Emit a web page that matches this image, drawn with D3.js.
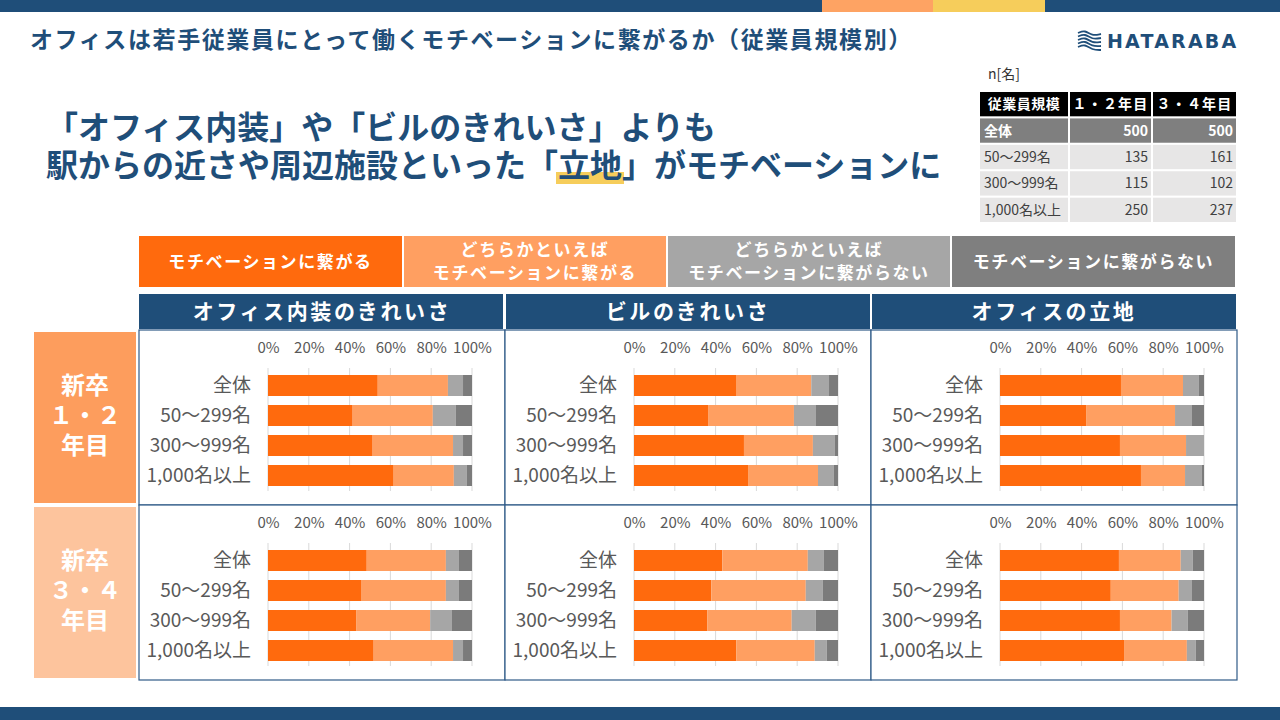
<!DOCTYPE html>
<html lang="ja">
<head>
<meta charset="utf-8">
<script src="https://cdn.jsdelivr.net/npm/d3@7"></script>
<style>
  html, body { margin: 0; padding: 0; background: #fff; }
  svg { display: block; font-family: "Noto Sans CJK JP", "Noto Sans", sans-serif; }
</style>
</head>
<body>
<svg id="chart" width="1280" height="720"></svg>
<script>
// ---- data ----
var sizeCats = ["全体", "50～299名", "300～999名", "1,000名以上"];
var responses = ["モチベーションに繋がる", "どちらかといえば|モチベーションに繋がる",
                 "どちらかといえば|モチベーションに繋がらない", "モチベーションに繋がらない"];
var items = ["オフィス内装のきれいさ", "ビルのきれいさ", "オフィスの立地"];
var cohorts = ["新卒|１・２|年目", "新卒|３・４|年目"];
var ticks = [0, 20, 40, 60, 80, 100];

// share (%) per size category: [繋がる, どちらかといえば繋がる, どちらかといえば繋がらない, 繋がらない]
var y12Interior = [[53.8, 34.4, 7.4, 4.4], [41.5, 39.3, 11.3, 7.9], [51.3, 39.4, 4.9, 4.4], [61.6, 29.5, 6.4, 2.5]];
var y12Building = [[50.0, 36.9, 8.7, 4.4], [36.3, 42.1, 10.8, 10.8], [53.9, 33.8, 10.8, 1.5], [55.9, 34.3, 7.8, 2.0]];
var y12Location = [[59.3, 30.4, 7.8, 2.5], [42.2, 43.6, 8.3, 5.9], [58.8, 32.4, 8.8, 0.0], [69.1, 21.6, 8.3, 1.0]];
var y34Interior = [[48.4, 38.8, 6.4, 6.4], [45.9, 41.3, 6.4, 6.4], [43.4, 36.1, 10.7, 9.8], [51.8, 38.9, 4.9, 4.4]];
var y34Building = [[43.3, 41.9, 7.9, 6.9], [37.9, 46.3, 8.4, 7.4], [36.0, 41.3, 11.8, 10.9], [50.2, 38.4, 5.9, 5.5]];
var y34Location = [[58.3, 30.3, 5.9, 5.5], [54.3, 33.3, 6.5, 5.9], [58.8, 25.3, 7.9, 8.0], [60.8, 30.8, 4.4, 4.0]];

// sample sizes
var tableHead = ["従業員規模", "１・２年目", "３・４年目"];
var n12 = [500, 135, 115, 250];
var n34 = [500, 161, 102, 237];

var title = "オフィスは若手従業員にとって働くモチベーションに繋がるか（従業員規模別）";
var headline1 = "「オフィス内装」や「ビルのきれいさ」よりも";
var headline2 = "駅からの近さや周辺施設といった「立地」がモチベーションに";

// ---- styles ----
var navy = "#1f4e79";
var barColors = ["#ff6a0d", "#ff9f61", "#a6a6a6", "#7b7b7b"];
var cohortColors = ["#fd9d5d", "#fdc49d"];
var textGray = "#595959";

var svg = d3.select("#chart");

// top & bottom bands
svg.append("rect").attr("x", 0).attr("y", 0).attr("width", 1280).attr("height", 12).attr("fill", navy);
svg.append("rect").attr("x", 822).attr("y", 0).attr("width", 111).attr("height", 12).attr("fill", "#fea363");
svg.append("rect").attr("x", 933).attr("y", 0).attr("width", 112).attr("height", 12).attr("fill", "#f6cd5b");
svg.append("rect").attr("x", 0).attr("y", 707).attr("width", 1280).attr("height", 13).attr("fill", navy);

// title
svg.append("text")
    .attr("x", 30).attr("y", 48)
    .attr("fill", navy)
    .style("font-size", "23px").style("font-weight", "bold").style("letter-spacing", "1.6px")
    .text(title);

// logo
var logo = svg.append("g").attr("transform", "translate(1078,30)");
var wave = d3.line().curve(d3.curveBasis);
for (let i = 0; i < 5; i++) {
    logo.append("path")
        .attr("d", wave([[0, 3 + i * 3.5], [7, 0 + i * 3.5], [14, 6 + i * 3.5], [23, 4 + i * 4]]))
        .attr("fill", "none").attr("stroke", navy).attr("stroke-width", 1.8);
}
logo.append("text")
    .attr("x", 29).attr("y", 18)
    .attr("fill", navy)
    .style("font-family", "'DejaVu Sans', sans-serif")
    .style("font-size", "19px").style("font-weight", "bold").style("letter-spacing", "2.2px")
    .text("HATARABA");

// headline
var hl = svg.append("g");
var hlHighlight = hl.append("rect").attr("fill", "#f6cd5b");
hl.append("text")
    .attr("x", 46).attr("y", 139)
    .attr("fill", navy)
    .style("font-size", "32px").style("font-weight", "bold")
    .text(headline1);
var hl2 = hl.append("text")
    .attr("x", 46).attr("y", 177)
    .attr("fill", navy)
    .style("font-size", "32px").style("font-weight", "bold")
    .text(headline2);
var hiIdx = headline2.indexOf("立地");
var hiStart = hl2.node().getStartPositionOfChar(hiIdx).x;
var hiLen = hl2.node().getSubStringLength(hiIdx, 2);
hlHighlight.attr("x", hiStart - 2).attr("y", 172).attr("width", hiLen + 4).attr("height", 12);

// sample size table
svg.append("text")
    .attr("x", 988).attr("y", 79)
    .attr("fill", "#333")
    .style("font-size", "14px")
    .text("n[名]");
var tCols = [[980, 1068], [1070, 1151], [1153, 1236]];
var tRowY = d3.scaleBand().domain(d3.range(sizeCats.length + 1)).range([92, 222]).paddingInner(0.08);
var table = svg.append("g");
tableHead.forEach(function (h, c) {
    table.append("rect")
        .attr("x", tCols[c][0]).attr("y", tRowY(0))
        .attr("width", tCols[c][1] - tCols[c][0]).attr("height", tRowY.bandwidth())
        .attr("fill", "#000");
    table.append("text")
        .attr("x", (tCols[c][0] + tCols[c][1]) / 2).attr("y", tRowY(0) + tRowY.bandwidth() / 2 + 5)
        .attr("text-anchor", "middle").attr("fill", "#fff")
        .style("font-size", "14px").style("font-weight", "bold").style("letter-spacing", c ? "1.2px" : "0.5px")
        .text(h);
});
sizeCats.forEach(function (s, r) {
    var row = r + 1;
    var first = r === 0;
    var cells = [s, n12[r], n34[r]];
    cells.forEach(function (v, c) {
        table.append("rect")
            .attr("x", tCols[c][0]).attr("y", tRowY(row))
            .attr("width", tCols[c][1] - tCols[c][0]).attr("height", tRowY.bandwidth())
            .attr("fill", first ? "#7f7f7f" : "#e7e6e6");
        table.append("text")
            .attr("x", c === 0 ? tCols[c][0] + 4 : tCols[c][1] - 3)
            .attr("y", tRowY(row) + tRowY.bandwidth() / 2 + 5)
            .attr("text-anchor", c === 0 ? "start" : "end")
            .attr("fill", first ? "#fff" : "#404040")
            .style("font-size", "14px").style("font-weight", first ? "bold" : "normal")
            .text(v);
    });
});

// legend
var legendX = [139, 404, 668, 952, 1237];
var legend = svg.append("g");
responses.forEach(function (r, i) {
    var x0 = legendX[i], x1 = legendX[i + 1] - 2;
    legend.append("rect")
        .attr("x", x0).attr("y", 236).attr("width", x1 - x0).attr("height", 51)
        .attr("fill", barColors[i] === "#7b7b7b" ? "#7f7f7f" : barColors[i]);
    var lines = r.split("|");
    lines.forEach(function (line, k) {
        legend.append("text")
            .attr("x", (x0 + x1) / 2)
            .attr("y", 261.5 + (k - (lines.length - 1) / 2) * 23 + 6)
            .attr("text-anchor", "middle").attr("fill", "#fff")
            .style("font-size", "17px").style("font-weight", "bold").style("letter-spacing", "1.6px")
            .text(line);
    });
});

// panels
var colX = d3.scaleBand().domain(items).range([139, 1237]);
var rowTop = [330, 505];
var panelH = 175;
var chartLeft = 129;
var chartW = 204;

var x = d3.scaleLinear().domain([0, 100]).range([0, chartW]);
var y = d3.scaleBand().domain(sizeCats).range([40.5, 160.5]).paddingInner(0.3).paddingOuter(0.15);

var panelData = [
    [y12Interior, y12Building, y12Location],
    [y34Interior, y34Building, y34Location]
];

// column headers
items.forEach(function (it) {
    var x0 = colX(it);
    svg.append("rect")
        .attr("x", x0 + (it === items[0] ? 0 : 1)).attr("y", 294)
        .attr("width", colX.bandwidth() - 2).attr("height", 35)
        .attr("fill", navy);
    svg.append("text")
        .attr("x", x0 + colX.bandwidth() / 2).attr("y", 319)
        .attr("text-anchor", "middle").attr("fill", "#fff")
        .style("font-size", "21px").style("font-weight", "bold").style("letter-spacing", "2.6px")
        .text(it);
});

// cohort labels
cohorts.forEach(function (c, r) {
    svg.append("rect")
        .attr("x", 34).attr("y", rowTop[r] + 2)
        .attr("width", 102).attr("height", panelH - 4)
        .attr("fill", cohortColors[r]);
    var lines = c.split("|");
    lines.forEach(function (line, k) {
        svg.append("text")
            .attr("x", 85).attr("y", rowTop[r] + 64 + k * 30)
            .attr("text-anchor", "middle").attr("fill", "#fff")
            .style("font-size", "24px").style("font-weight", "bold")
            .text(line);
    });
});

cohorts.forEach(function (c, r) {
    items.forEach(function (it, ci) {
        var px = colX(it);
        var py = rowTop[r];
        var panel = svg.append("g").attr("transform", "translate(" + px + "," + py + ")");
        panel.append("rect")
            .attr("x", 0).attr("y", 0).attr("width", colX.bandwidth()).attr("height", panelH)
            .attr("fill", "#fff").attr("stroke", "#2f5a88").attr("stroke-width", 1.2);

        var g = panel.append("g").attr("transform", "translate(" + chartLeft + ",0)");

        // gridlines
        g.selectAll("line.grid")
            .data(ticks)
            .enter().append("line")
            .attr("class", "grid")
            .attr("x1", function (d) { return x(d); })
            .attr("x2", function (d) { return x(d); })
            .attr("y1", 38).attr("y2", 161)
            .attr("stroke", "#d9d9d9").attr("stroke-width", 1);

        // top axis
        var ax = g.append("g")
            .attr("transform", "translate(0,23)")
            .call(d3.axisTop(x).tickValues(ticks).tickFormat(function (d) { return d + "%"; })
                .tickSize(0).tickPadding(0));
        ax.select(".domain").remove();
        ax.selectAll("text")
            .attr("fill", textGray)
            .style("font-family", "'Noto Sans CJK JP', sans-serif")
            .style("font-size", "15px");

        // stacked bars
        var rows = panelData[r][ci].map(function (v, i) {
            var o = { cat: sizeCats[i] };
            v.forEach(function (val, k) { o["k" + k] = val; });
            return o;
        });
        var stack = d3.stack().keys(responses.map(function (d, k) { return "k" + k; }));
        var series = stack(rows);
        g.selectAll("g.series")
            .data(series)
            .enter().append("g")
            .attr("class", "series")
            .attr("fill", function (d, k) { return barColors[k]; })
            .selectAll("rect")
            .data(function (d) { return d; })
            .enter().append("rect")
            .attr("x", function (d) { return x(d[0]); })
            .attr("width", function (d) { return Math.max(0, x(d[1]) - x(d[0])); })
            .attr("y", function (d) { return y(d.data.cat); })
            .attr("height", y.bandwidth());

        // category axis
        var ay = g.append("g")
            .call(d3.axisLeft(y).tickSize(0).tickPadding(17));
        ay.select(".domain").remove();
        ay.selectAll("text")
            .attr("fill", textGray)
            .style("font-family", "'Noto Sans CJK JP', sans-serif")
            .style("font-size", "19px");
    });
});
</script>
</body>
</html>
